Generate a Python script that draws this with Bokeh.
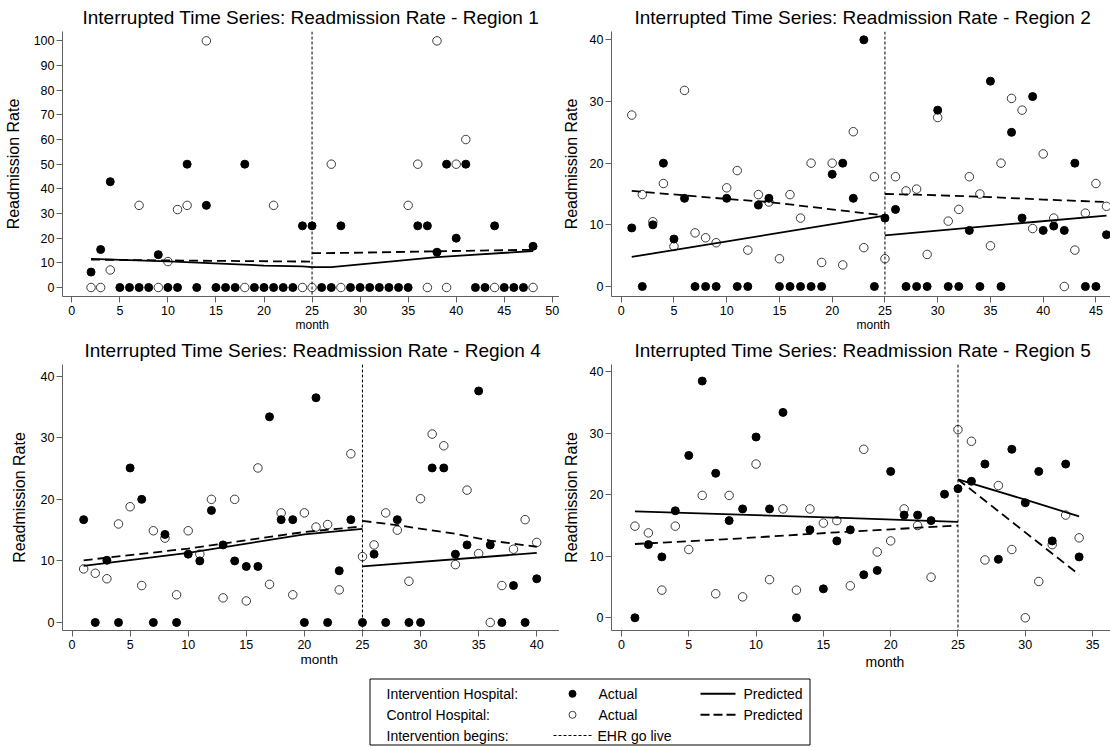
from bokeh.plotting import figure
from bokeh.layouts import column, row
from bokeh.models import Range1d, Span, FixedTicker, Title
from bokeh.embed import file_html
from bokeh.resources import INLINE
from bokeh.core.properties import value

FONT = "Liberation Sans"
NAN = float("nan")

# ---------------- data ----------------
titles = [
    "Interrupted Time Series: Readmission Rate - Region 1",
    "Interrupted Time Series: Readmission Rate - Region 2",
    "Interrupted Time Series: Readmission Rate - Region 4",
    "Interrupted Time Series: Readmission Rate - Region 5",
]
y_title = "Readmission Rate"
x_title = "month"
go_live_month = 25

# Region 1
r1_int_month = list(range(2, 49))
r1_int_rate = [6.25, 15.4, 42.9, 0, 0, 0, 0, 13.3, 0, 0, 50, 0, 33.3, 0, 0, 0, 50, 0, 0, 0, 0, 0,
               25, 25, 0, 0, 25, 0, 0, 0, 0, 0, 0, 0, 25, 25, 14.3, 50, 20, 50, 0, 0, 25, 0, 0, 0, 16.7]
r1_ctl_month = [2, 3, 4, 7, 9, 10, 11, 12, 14, 18, 21, 24, 25, 27, 28, 35, 36, 37, 38, 39, 40, 41, 44, 48]
r1_ctl_rate = [0, 0, 7.1, 33.3, 0, 10.5, 31.6, 33.3, 100, 0, 33.3, 0, 0, 50, 0, 33.3, 50, 0, 100, 0, 50, 60, 0, 0]
r1_int_pre_m = [2, 10, 20, 24, 25]
r1_int_pre_v = [11.6, 10.6, 8.9, 8.6, 8.3]
r1_int_post_m = [25, 27, 38, 48]
r1_int_post_v = [8.3, 8.3, 12.3, 14.8]
r1_ctl_pre_m = [2, 12, 25]
r1_ctl_pre_v = [11.3, 10.9, 10.5]
r1_ctl_post_m = [25, 28, 38, 48]
r1_ctl_post_v = [13.9, 14.0, 14.7, 15.3]

# Region 2
r2_int_month = list(range(1, 47))
r2_int_rate = [9.5, 0, 10, 20, 7.7, 14.3, 0, 0, 0, 14.3,
               0, 0, 13.2, 14.3, 0, 0, 0, 0, 0, 18.2,
               20, 14.3, 40, 0, 11.1, 12.5, 0, 0, 0, 28.6,
               0, 0, 9.1, 0, 33.3, 0, 25, 11.1, 30.8, 9.1,
               9.8, 9.1, 20, 0, 0, 8.4]
r2_ctl_month = list(range(1, 47))
r2_ctl_rate = [27.8, 14.9, 10.5, 16.7, 6.5, 31.8, 8.7, 7.9, 7.1, 16,
               18.8, 5.9, 14.9, 13.7, 4.5, 14.9, 11.1, 20, 3.9, 20,
               3.5, 25.1, 6.3, 17.8, 4.5, 17.8, 15.5, 15.8, 5.2, 27.4,
               10.6, 12.5, 17.8, 15, 6.6, 20, 30.5, 28.6, 9.4, 21.5,
               11.1, 0, 5.9, 11.9, 16.7, 13]
r2_int_pre_m = [1, 25]
r2_int_pre_v = [4.8, 11.5]
r2_int_post_m = [25, 38, 46]
r2_int_post_v = [8.3, 10.3, 11.5]
r2_ctl_pre_m = [1, 10, 14, 18, 21, 25]
r2_ctl_pre_v = [15.5, 14.2, 13.7, 12.9, 12.3, 11.5]
r2_ctl_post_m = [25, 28, 35, 40, 46]
r2_ctl_post_v = [15.0, 14.9, 14.5, 14.1, 13.7]

# Region 4
r4_int_month = list(range(1, 41))
r4_int_rate = [16.7, 0, 10.1, 0, 25.1, 20, 0, 14.3, 0, 11.1,
               10, 18.2, 12.6, 10, 9.1, 9.1, 33.4, 16.7, 16.7, 0,
               36.5, 0, 8.4, 16.7, 0, 11.1, 0, 16.7, 0, 0,
               25.1, 25.1, 11.1, 12.6, 37.6, 12.6, 0, 6, 0, 7.1]
r4_ctl_month = list(range(1, 41))
r4_ctl_rate = [8.7, 8, 7.1, 16, 18.8, 6, 14.9, 13.7, 4.5, 14.9,
               11.1, 20, 4, 20, 3.5, 25.1, 6.2, 17.8, 4.5, 17.8,
               15.5, 15.9, 5.3, 27.4, 10.7, 12.6, 17.8, 15, 6.7, 20.1,
               30.6, 28.7, 9.4, 21.5, 11.2, 0, 6, 11.9, 16.7, 13]
r4_int_pre_m = [1, 10, 20, 25]
r4_int_pre_v = [9.2, 11.3, 14.3, 15.2]
r4_int_post_m = [25, 40]
r4_int_post_v = [9.1, 11.3]
r4_ctl_pre_m = [1, 10, 20, 25]
r4_ctl_pre_v = [10.1, 12.0, 14.7, 15.6]
r4_ctl_post_m = [25, 28, 33, 36, 40]
r4_ctl_post_v = [16.5, 15.8, 14.4, 13.3, 12.3]

# Region 5
r5_int_month = list(range(1, 35))
r5_int_rate = [0, 11.9, 9.9, 17.4, 26.4, 38.5, 23.5, 15.8, 17.7, 29.4,
               17.7, 33.4, 0, 14.3, 4.7, 12.5, 14.3, 7, 7.7, 23.8,
               16.7, 16.7, 15.8, 20.1, 21, 22.2, 25, 9.5, 27.4, 18.7,
               23.8, 12.5, 25, 9.9]
r5_ctl_month = list(range(1, 35))
r5_ctl_rate = [14.9, 13.8, 4.5, 14.9, 11.1, 19.9, 3.9, 19.9, 3.4, 25,
               6.2, 17.7, 4.5, 17.7, 15.4, 15.8, 5.2, 27.4, 10.7, 12.5,
               17.7, 15, 6.6, NAN, 30.6, 28.7, 9.4, 21.5, 11.1, 0,
               5.9, 11.9, 16.7, 13]
r5_int_pre_m = [1, 17, 25]
r5_int_pre_v = [17.3, 16.2, 15.6]
r5_int_post_m = [25, 30, 34]
r5_int_post_v = [22.5, 19.2, 16.5]
r5_ctl_pre_m = [1, 8, 16, 25]
r5_ctl_pre_v = [12.0, 12.8, 13.9, 15.0]
r5_ctl_post_m = [25, 34]
r5_ctl_post_v = [22.5, 7.0]

AXIS_COLOR = "#606060"


def make_panel(cfg):
    p = figure(width=cfg["w"], height=cfg["h"],
               x_range=Range1d(*cfg["xr"]), y_range=Range1d(*cfg["yr"]),
               output_backend="svg", toolbar_location=None, title=None,
               min_border_left=cfg["mb"][0], min_border_right=cfg["mb"][1],
               min_border_top=cfg["mb"][2], min_border_bottom=cfg["mb"][3])
    p.outline_line_color = None
    p.grid.visible = False
    p.background_fill_color = "white"
    p.border_fill_color = "white"
    for ax, ticks, standoff in ((p.xaxis, cfg["xt"], 3), (p.yaxis, cfg["yt"], 2)):
        ax.ticker = FixedTicker(ticks=ticks)
        ax.minor_tick_line_color = None
        ax.major_tick_out = 6
        ax.major_tick_in = 0
        ax.axis_line_color = AXIS_COLOR
        ax.major_tick_line_color = AXIS_COLOR
        ax.major_label_text_font = FONT
        ax.major_label_text_font_size = "12.5px"
        ax.major_label_text_color = "black"
        ax.major_label_standoff = standoff
    p.yaxis.axis_label = y_title
    p.yaxis.axis_label_text_font = FONT
    p.yaxis.axis_label_text_font_size = "16px"
    p.yaxis.axis_label_text_font_style = "normal"
    p.yaxis.axis_label_text_color = "black"
    p.yaxis.axis_label_standoff = cfg["ylso"]

    p.add_layout(Title(text=cfg["title"], align="left", offset=cfg["tx"], standoff=7,
                       vertical_align="bottom", text_font=FONT, text_font_size="19px",
                       text_font_style="normal", text_color="black",
                       text_line_height=1.0), "above")
    p.add_layout(Title(text=x_title, align="left", offset=cfg["mx"], standoff=cfg["mso"],
                       vertical_align="top", text_font=FONT, text_font_size=cfg["ms"],
                       text_font_style="normal", text_color="black",
                       text_line_height=1.0), "below")

    d = cfg["data"]
    p.scatter(d["cm"], d["cv"], marker="circle", size=8.5, fill_color=None,
              line_color="#3a3a3a", line_width=1)
    p.scatter(d["im"], d["iv"], marker="circle", size=8, fill_color="black",
              line_color="black")
    p.line(d["ipre"][0], d["ipre"][1], line_color="black", line_width=1.8)
    p.line(d["ipost"][0], d["ipost"][1], line_color="black", line_width=1.8)
    p.line(d["cpre"][0], d["cpre"][1], line_color="black", line_width=1.8, line_dash="9 5")
    p.line(d["cpost"][0], d["cpost"][1], line_color="black", line_width=1.8, line_dash="9 5")
    p.add_layout(Span(location=go_live_month, dimension="height", line_color="black",
                      line_width=1, line_dash="3 2"))
    return p


W_L, W_R = 559, 551
H1, H2, H3 = 334, 340, 73

p1 = make_panel(dict(
    w=W_L, h=H1, mb=(62, 0, 31, 38), xr=(-0.97, 50.75), yr=(-3.65, 103.8),
    xt=list(range(0, 51, 5)), yt=list(range(0, 101, 10)), ylso=9,
    title=titles[0], tx=20, mx=233, ms="12px", mso=0,
    data=dict(im=r1_int_month, iv=r1_int_rate, cm=r1_ctl_month, cv=r1_ctl_rate,
              ipre=(r1_int_pre_m, r1_int_pre_v), ipost=(r1_int_post_m, r1_int_post_v),
              cpre=(r1_ctl_pre_m, r1_ctl_pre_v), cpost=(r1_ctl_post_m, r1_ctl_post_v))))

p2 = make_panel(dict(
    w=W_R, h=H1, mb=(52, 0, 31, 38), xr=(-0.92, 46.38), yr=(-1.62, 41.35),
    xt=list(range(0, 46, 5)), yt=list(range(0, 41, 10)), ylso=7,
    title=titles[1], tx=23, mx=245, ms="12px", mso=0,
    data=dict(im=r2_int_month, iv=r2_int_rate, cm=r2_ctl_month, cv=r2_ctl_rate,
              ipre=(r2_int_pre_m, r2_int_pre_v), ipost=(r2_int_post_m, r2_int_post_v),
              cpre=(r2_ctl_pre_m, r2_ctl_pre_v), cpost=(r2_ctl_post_m, r2_ctl_post_v))))

p3 = make_panel(dict(
    w=W_L, h=H2, mb=(62, 0, 30, 44), xr=(-0.82, 41.96), yr=(-1.30, 41.9),
    xt=list(range(0, 41, 5)), yt=list(range(0, 41, 10)), ylso=10,
    title=titles[2], tx=22, mx=238, ms="13.5px", mso=0,
    data=dict(im=r4_int_month, iv=r4_int_rate, cm=r4_ctl_month, cv=r4_ctl_rate,
              ipre=(r4_int_pre_m, r4_int_pre_v), ipost=(r4_int_post_m, r4_int_post_v),
              cpre=(r4_ctl_pre_m, r4_ctl_pre_v), cpost=(r4_ctl_post_m, r4_ctl_post_v))))

p4 = make_panel(dict(
    w=W_R, h=H2, mb=(52, 0, 30, 44), xr=(-0.74, 36.33), yr=(-2.07, 41.19),
    xt=list(range(0, 36, 5)), yt=list(range(0, 41, 10)), ylso=7,
    title=titles[3], tx=23, mx=254, ms="14px", mso=5,
    data=dict(im=r5_int_month, iv=r5_int_rate, cm=r5_ctl_month, cv=r5_ctl_rate,
              ipre=(r5_int_pre_m, r5_int_pre_v), ipost=(r5_int_post_m, r5_int_post_v),
              cpre=(r5_ctl_pre_m, r5_ctl_pre_v), cpost=(r5_ctl_post_m, r5_ctl_post_v))))

# ---------------- legend ----------------
leg = figure(width=1110, height=H3, x_range=Range1d(0, 1110), y_range=Range1d(H3, 0),
             output_backend="svg", toolbar_location=None, title=None,
             x_axis_type=None, y_axis_type=None,
             min_border_left=0, min_border_right=0, min_border_top=0, min_border_bottom=0)
leg.outline_line_color = None
leg.grid.visible = False
leg.quad(left=[369.5], right=[809.5], top=[4.5], bottom=[70.5], fill_color=None,
         line_color="black", line_width=1)
leg_labels = ["Intervention Hospital:", "Control Hospital:", "Intervention begins:",
              "Actual", "Actual", "Predicted", "Predicted", "EHR go live"]
leg.text(x=[386, 386, 386, 598, 598, 743, 743, 597],
         y=[19.3, 40.3, 61, 19.3, 40.3, 19.3, 40.3, 61],
         text=leg_labels, text_font=value(FONT), text_font_size="14px",
         text_color="black", text_baseline="middle", text_align="left")
leg.scatter([572], [19.3], marker="circle", size=7, fill_color="black", line_color="black")
leg.scatter([572], [40.3], marker="circle", size=7, fill_color=None, line_color="#3a3a3a")
leg.line([700, 735], [19.3, 19.3], line_color="black", line_width=2)
leg.line([700, 735], [40.3, 40.3], line_color="black", line_width=2, line_dash="9 4")
leg.line([553, 592], [61, 61], line_color="black", line_width=1, line_dash="3 2")

layout = column(row(p1, p2), row(p3, p4), leg)
open("out.html", "w").write(file_html(layout, INLINE))
